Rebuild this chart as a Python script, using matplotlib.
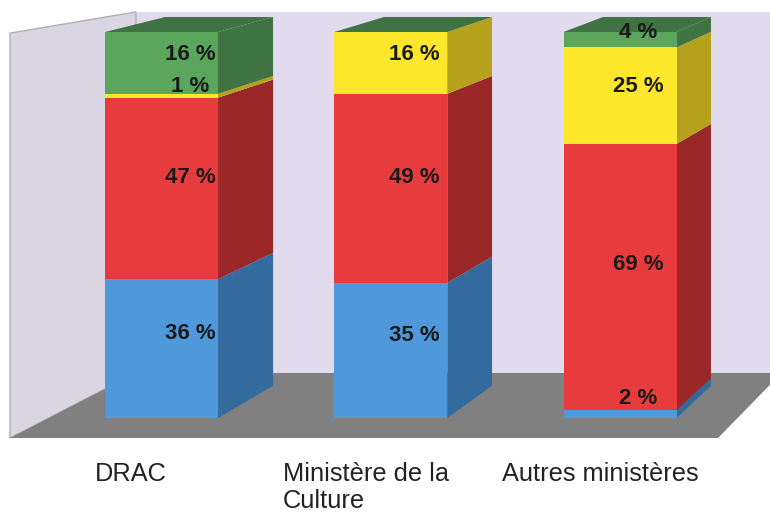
import matplotlib.pyplot as plt
from matplotlib.patches import Polygon

plt.rcParams['font.family'] = ['Liberation Sans', 'DejaVu Sans']

# data
categories = ['DRAC', 'Ministère de la\nCulture', 'Autres ministères']
blue_vals = [36, 35, 2]
red_vals = [47, 49, 69]
yellow_vals = [1, 16, 25]
green_vals = [16, 0, 4]

series = [blue_vals, red_vals, yellow_vals, green_vals]
front_colors = ['#4f99da', '#e83b3d', '#fde72a', '#5ba55c']
side_colors = ['#346b9e', '#9b2729', '#b5a11c', '#3f7343']

# fake 3d: points are pulled towards a vanishing point
VPX, VPY = 5.58, 186.3
DEPTH = 0.045
BAR_W = 0.493


def proj(x, y, t):
    return x + t * (VPX - x), y + t * (VPY - y)


fig = plt.figure(figsize=(7.7, 5.13), dpi=100)
ax = fig.add_axes([0, 0, 1, 1])
ax.set_xlim(-0.7045, 2.654)
ax.set_ylim(-24.6, 108.29)
ax.axis('off')

# walls and floor
floor_y, floor_l, floor_r, floor_t = -5.18, -0.661, 2.427, 0.088
bl = proj(floor_l, floor_y, floor_t)
br = proj(floor_r, floor_y, floor_t)
ax.add_patch(Polygon([(bl[0], bl[1]), (bl[0], 105.2), (2.7, 105.2), (2.7, bl[1])],
                     closed=True, facecolor='#e2dbed', edgecolor='none', zorder=0))
ax.add_patch(Polygon([(floor_l, floor_y), (floor_l, 99.7), (bl[0], 105.2), bl],
                     closed=True, facecolor='#dad5e3', edgecolor='#b0b0b0', lw=1, zorder=0))
ax.add_patch(Polygon([(floor_l, floor_y), (floor_r, floor_y), br, bl],
                     closed=True, facecolor='#808080', edgecolor='none', zorder=0))

for i in range(len(categories)):
    x0, x1 = i - BAR_W / 2, i + BAR_W / 2
    bottom = 0
    for s, vals in enumerate(series):
        v = vals[i]
        if v > 0:
            side = [(x1, bottom), (x1, bottom + v), proj(x1, bottom + v, DEPTH), proj(x1, bottom, DEPTH)]
            ax.add_patch(Polygon(side, closed=True, facecolor=side_colors[s], edgecolor='none'))
            ax.bar(i, v, bottom=bottom, width=BAR_W, color=front_colors[s], linewidth=0)
        bottom += v
    top = [(x0, bottom), (x1, bottom), proj(x1, bottom, DEPTH), proj(x0, bottom, DEPTH)]
    ax.add_patch(Polygon(top, closed=True, facecolor=side_colors[-1], edgecolor='none'))

    # value labels
    bottom = 0
    for s, vals in enumerate(series):
        v = vals[i]
        if v > 0:
            lx, ly = proj(i, bottom + v / 2, DEPTH / 2)
            ax.text(lx, ly, f'{v} %', ha='center', va='center', fontsize=16,
                    fontweight='bold', color='#1a1a1a', zorder=5)
        bottom += v

    cx, _ = proj(i, 0, -0.024)
    ax.text(cx, -11.5, categories[i], ha='center', va='top', multialignment='left',
            fontsize=18.3, color='#222222', linespacing=1.13)

fig.savefig('out.png', dpi=100)
